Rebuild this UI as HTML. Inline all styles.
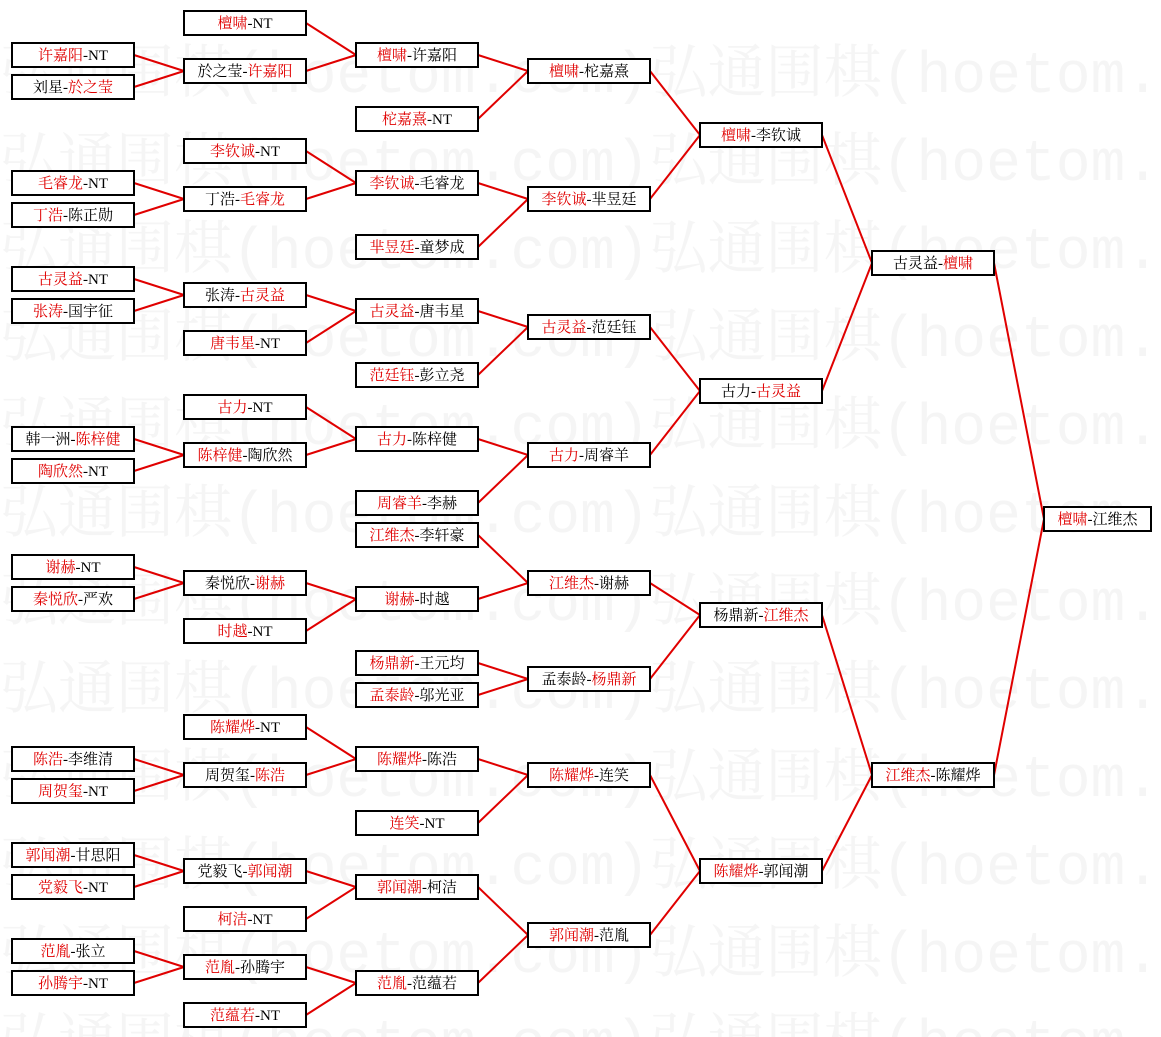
<!DOCTYPE html>
<html><head><meta charset="utf-8"><style>
html,body{margin:0;padding:0;background:#fff;}
svg{display:block;}
text{font-family:"Liberation Serif","Noto Serif CJK SC","Noto Sans CJK SC",serif;font-size:15px;text-anchor:middle;fill:#000;}
.w text{font-family:"Liberation Mono","Noto Serif CJK SC",monospace;font-size:58px;fill:#f5f5f5;text-anchor:start;}
rect{fill:#fff;stroke:#000;stroke-width:2;}
.r{fill:#e00000;}
</style></head><body>
<svg width="1161" height="1037" viewBox="0 0 1161 1037" xmlns="http://www.w3.org/2000/svg">
<g class="w">
<text x="0" y="92">弘通围棋(hoetom.com)弘通围棋(hoetom.</text>
<text x="0" y="180">弘通围棋(hoetom.com)弘通围棋(hoetom.</text>
<text x="0" y="268">弘通围棋(hoetom.com)弘通围棋(hoetom.</text>
<text x="0" y="356">弘通围棋(hoetom.com)弘通围棋(hoetom.</text>
<text x="0" y="444">弘通围棋(hoetom.com)弘通围棋(hoetom.</text>
<text x="0" y="532">弘通围棋(hoetom.com)弘通围棋(hoetom.</text>
<text x="0" y="620">弘通围棋(hoetom.com)弘通围棋(hoetom.</text>
<text x="0" y="708">弘通围棋(hoetom.com)弘通围棋(hoetom.</text>
<text x="0" y="796">弘通围棋(hoetom.com)弘通围棋(hoetom.</text>
<text x="0" y="884">弘通围棋(hoetom.com)弘通围棋(hoetom.</text>
<text x="0" y="972">弘通围棋(hoetom.com)弘通围棋(hoetom.</text>
<text x="0" y="1060">弘通围棋(hoetom.com)弘通围棋(hoetom.</text>
</g>
<path fill="none" stroke="#e00000" stroke-width="2" d="
M134 55L184 71M134 87L184 71M134 183L184 199M134 215L184 199M134 279L184 295M134 311L184 295M134 439L184 455M134 471L184 455
M134 567L184 583M134 599L184 583M134 759L184 775M134 791L184 775M134 855L184 871M134 887L184 871M134 951L184 967M134 983L184 967
M306 23L356 55M306 71L356 55M306 151L356 183M306 199L356 183M306 295L356 311M306 343L356 311M306 407L356 439M306 455L356 439
M306 583L356 599M306 631L356 599M306 727L356 759M306 775L356 759M306 871L356 887M306 919L356 887M306 967L356 983M306 1015L356 983
M478 55L528 71M478 119L528 71M478 183L528 199M478 247L528 199M478 311L528 327M478 375L528 327M478 439L528 455M478 503L528 455
M478 535L528 583M478 599L528 583M478 663L528 679M478 695L528 679M478 759L528 775M478 823L528 775M478 887L528 935M478 983L528 935
M650 71L700 135M650 199L700 135M650 327L700 391M650 455L700 391M650 583L700 615M650 679L700 615M650 775L700 871M650 935L700 871
M822 135L872 263M822 391L872 263M822 615L872 775M822 871L872 775M994 263L1044 519M994 775L1044 519"/>

<g transform="translate(12,43)"><rect width="122" height="24"/><text x="61" y="17"><tspan class="r">许嘉阳</tspan>-NT</text></g>
<g transform="translate(12,75)"><rect width="122" height="24"/><text x="61" y="17">刘星-<tspan class="r">於之莹</tspan></text></g>
<g transform="translate(12,171)"><rect width="122" height="24"/><text x="61" y="17"><tspan class="r">毛睿龙</tspan>-NT</text></g>
<g transform="translate(12,203)"><rect width="122" height="24"/><text x="61" y="17"><tspan class="r">丁浩</tspan>-陈正勋</text></g>
<g transform="translate(12,267)"><rect width="122" height="24"/><text x="61" y="17"><tspan class="r">古灵益</tspan>-NT</text></g>
<g transform="translate(12,299)"><rect width="122" height="24"/><text x="61" y="17"><tspan class="r">张涛</tspan>-国宇征</text></g>
<g transform="translate(12,427)"><rect width="122" height="24"/><text x="61" y="17">韩一洲-<tspan class="r">陈梓健</tspan></text></g>
<g transform="translate(12,459)"><rect width="122" height="24"/><text x="61" y="17"><tspan class="r">陶欣然</tspan>-NT</text></g>
<g transform="translate(12,555)"><rect width="122" height="24"/><text x="61" y="17"><tspan class="r">谢赫</tspan>-NT</text></g>
<g transform="translate(12,587)"><rect width="122" height="24"/><text x="61" y="17"><tspan class="r">秦悦欣</tspan>-严欢</text></g>
<g transform="translate(12,747)"><rect width="122" height="24"/><text x="61" y="17"><tspan class="r">陈浩</tspan>-李维清</text></g>
<g transform="translate(12,779)"><rect width="122" height="24"/><text x="61" y="17"><tspan class="r">周贺玺</tspan>-NT</text></g>
<g transform="translate(12,843)"><rect width="122" height="24"/><text x="61" y="17"><tspan class="r">郭闻潮</tspan>-甘思阳</text></g>
<g transform="translate(12,875)"><rect width="122" height="24"/><text x="61" y="17"><tspan class="r">党毅飞</tspan>-NT</text></g>
<g transform="translate(12,939)"><rect width="122" height="24"/><text x="61" y="17"><tspan class="r">范胤</tspan>-张立</text></g>
<g transform="translate(12,971)"><rect width="122" height="24"/><text x="61" y="17"><tspan class="r">孙腾宇</tspan>-NT</text></g>

<g transform="translate(184,11)"><rect width="122" height="24"/><text x="61" y="17"><tspan class="r">檀啸</tspan>-NT</text></g>
<g transform="translate(184,59)"><rect width="122" height="24"/><text x="61" y="17">於之莹-<tspan class="r">许嘉阳</tspan></text></g>
<g transform="translate(184,139)"><rect width="122" height="24"/><text x="61" y="17"><tspan class="r">李钦诚</tspan>-NT</text></g>
<g transform="translate(184,187)"><rect width="122" height="24"/><text x="61" y="17">丁浩-<tspan class="r">毛睿龙</tspan></text></g>
<g transform="translate(184,283)"><rect width="122" height="24"/><text x="61" y="17">张涛-<tspan class="r">古灵益</tspan></text></g>
<g transform="translate(184,331)"><rect width="122" height="24"/><text x="61" y="17"><tspan class="r">唐韦星</tspan>-NT</text></g>
<g transform="translate(184,395)"><rect width="122" height="24"/><text x="61" y="17"><tspan class="r">古力</tspan>-NT</text></g>
<g transform="translate(184,443)"><rect width="122" height="24"/><text x="61" y="17"><tspan class="r">陈梓健</tspan>-陶欣然</text></g>
<g transform="translate(184,571)"><rect width="122" height="24"/><text x="61" y="17">秦悦欣-<tspan class="r">谢赫</tspan></text></g>
<g transform="translate(184,619)"><rect width="122" height="24"/><text x="61" y="17"><tspan class="r">时越</tspan>-NT</text></g>
<g transform="translate(184,715)"><rect width="122" height="24"/><text x="61" y="17"><tspan class="r">陈耀烨</tspan>-NT</text></g>
<g transform="translate(184,763)"><rect width="122" height="24"/><text x="61" y="17">周贺玺-<tspan class="r">陈浩</tspan></text></g>
<g transform="translate(184,859)"><rect width="122" height="24"/><text x="61" y="17">党毅飞-<tspan class="r">郭闻潮</tspan></text></g>
<g transform="translate(184,907)"><rect width="122" height="24"/><text x="61" y="17"><tspan class="r">柯洁</tspan>-NT</text></g>
<g transform="translate(184,955)"><rect width="122" height="24"/><text x="61" y="17"><tspan class="r">范胤</tspan>-孙腾宇</text></g>
<g transform="translate(184,1003)"><rect width="122" height="24"/><text x="61" y="17"><tspan class="r">范蕴若</tspan>-NT</text></g>

<g transform="translate(356,43)"><rect width="122" height="24"/><text x="61" y="17"><tspan class="r">檀啸</tspan>-许嘉阳</text></g>
<g transform="translate(356,107)"><rect width="122" height="24"/><text x="61" y="17"><tspan class="r">柁嘉熹</tspan>-NT</text></g>
<g transform="translate(356,171)"><rect width="122" height="24"/><text x="61" y="17"><tspan class="r">李钦诚</tspan>-毛睿龙</text></g>
<g transform="translate(356,235)"><rect width="122" height="24"/><text x="61" y="17"><tspan class="r">芈昱廷</tspan>-童梦成</text></g>
<g transform="translate(356,299)"><rect width="122" height="24"/><text x="61" y="17"><tspan class="r">古灵益</tspan>-唐韦星</text></g>
<g transform="translate(356,363)"><rect width="122" height="24"/><text x="61" y="17"><tspan class="r">范廷钰</tspan>-彭立尧</text></g>
<g transform="translate(356,427)"><rect width="122" height="24"/><text x="61" y="17"><tspan class="r">古力</tspan>-陈梓健</text></g>
<g transform="translate(356,491)"><rect width="122" height="24"/><text x="61" y="17"><tspan class="r">周睿羊</tspan>-李赫</text></g>
<g transform="translate(356,523)"><rect width="122" height="24"/><text x="61" y="17"><tspan class="r">江维杰</tspan>-李轩豪</text></g>
<g transform="translate(356,587)"><rect width="122" height="24"/><text x="61" y="17"><tspan class="r">谢赫</tspan>-时越</text></g>
<g transform="translate(356,651)"><rect width="122" height="24"/><text x="61" y="17"><tspan class="r">杨鼎新</tspan>-王元均</text></g>
<g transform="translate(356,683)"><rect width="122" height="24"/><text x="61" y="17"><tspan class="r">孟泰龄</tspan>-邬光亚</text></g>
<g transform="translate(356,747)"><rect width="122" height="24"/><text x="61" y="17"><tspan class="r">陈耀烨</tspan>-陈浩</text></g>
<g transform="translate(356,811)"><rect width="122" height="24"/><text x="61" y="17"><tspan class="r">连笑</tspan>-NT</text></g>
<g transform="translate(356,875)"><rect width="122" height="24"/><text x="61" y="17"><tspan class="r">郭闻潮</tspan>-柯洁</text></g>
<g transform="translate(356,971)"><rect width="122" height="24"/><text x="61" y="17"><tspan class="r">范胤</tspan>-范蕴若</text></g>

<g transform="translate(528,59)"><rect width="122" height="24"/><text x="61" y="17"><tspan class="r">檀啸</tspan>-柁嘉熹</text></g>
<g transform="translate(528,187)"><rect width="122" height="24"/><text x="61" y="17"><tspan class="r">李钦诚</tspan>-芈昱廷</text></g>
<g transform="translate(528,315)"><rect width="122" height="24"/><text x="61" y="17"><tspan class="r">古灵益</tspan>-范廷钰</text></g>
<g transform="translate(528,443)"><rect width="122" height="24"/><text x="61" y="17"><tspan class="r">古力</tspan>-周睿羊</text></g>
<g transform="translate(528,571)"><rect width="122" height="24"/><text x="61" y="17"><tspan class="r">江维杰</tspan>-谢赫</text></g>
<g transform="translate(528,667)"><rect width="122" height="24"/><text x="61" y="17">孟泰龄-<tspan class="r">杨鼎新</tspan></text></g>
<g transform="translate(528,763)"><rect width="122" height="24"/><text x="61" y="17"><tspan class="r">陈耀烨</tspan>-连笑</text></g>
<g transform="translate(528,923)"><rect width="122" height="24"/><text x="61" y="17"><tspan class="r">郭闻潮</tspan>-范胤</text></g>

<g transform="translate(700,123)"><rect width="122" height="24"/><text x="61" y="17"><tspan class="r">檀啸</tspan>-李钦诚</text></g>
<g transform="translate(700,379)"><rect width="122" height="24"/><text x="61" y="17">古力-<tspan class="r">古灵益</tspan></text></g>
<g transform="translate(700,603)"><rect width="122" height="24"/><text x="61" y="17">杨鼎新-<tspan class="r">江维杰</tspan></text></g>
<g transform="translate(700,859)"><rect width="122" height="24"/><text x="61" y="17"><tspan class="r">陈耀烨</tspan>-郭闻潮</text></g>

<g transform="translate(872,251)"><rect width="122" height="24"/><text x="61" y="17">古灵益-<tspan class="r">檀啸</tspan></text></g>
<g transform="translate(872,763)"><rect width="122" height="24"/><text x="61" y="17"><tspan class="r">江维杰</tspan>-陈耀烨</text></g>

<g transform="translate(1044,507)"><rect width="107" height="24"/><text x="53.5" y="17"><tspan class="r">檀啸</tspan>-江维杰</text></g>
</svg>
</body></html>
